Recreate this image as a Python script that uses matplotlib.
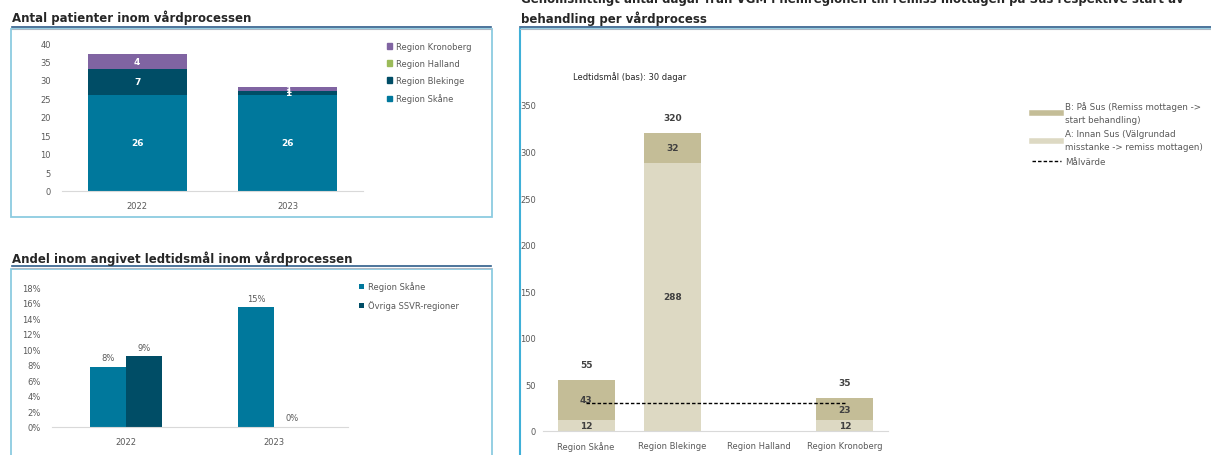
import numpy as np
import matplotlib.pyplot as plt
from matplotlib.patches import Rectangle, Patch
from matplotlib.lines import Line2D

W, H = 1211, 456

# Antal patienter inom vårdprocessen
years = ['2022', '2023']
skane = [26, 26]
blekinge = [7, 1]
halland = [0, 0]
kronoberg = [4, 1]

# Andel inom angivet ledtidsmål
andel_skane = [0.077, 0.154]
andel_ovriga = [0.091, 0.0]
andel_labels_skane = ['8%', '15%']
andel_labels_ovriga = ['9%', '0%']

# Genomsnittligt antal dagar per region
regioner = ['Region Skåne', 'Region Blekinge', 'Region Halland', 'Region Kronoberg']
dagar_a = [12, 288, 0, 12]
dagar_b = [43, 32, 0, 23]
malvarde = 30

c_skane = '#00789c'
c_blek = '#004d66'
c_hall = '#9bbb59'
c_kron = '#8064a2'
c_a = '#ddd9c3'
c_b = '#c4bd97'
grey = '#595959'
box_col = '#8ccbe0'

plt.rcParams['font.family'] = ['DejaVu Sans']


def fx(x):
    return x / W


def fy(y):
    return 1 - y / H


def add_ax(x0, x1, y0, y1):
    # pixel box -> axes (y0 top, y1 bottom)
    return fig.add_axes([fx(x0), fy(y1), fx(x1 - x0), (y1 - y0) / H])


def style(ax, ypad):
    for s in ['top', 'right', 'left']:
        ax.spines[s].set_visible(False)
    ax.spines['bottom'].set_color('#d9d9d9')
    ax.tick_params(length=0, labelsize=6, colors=grey)
    ax.tick_params(axis='y', pad=ypad)
    ax.tick_params(axis='x', pad=7)


fig = plt.figure(figsize=(W / 100, H / 100), dpi=100)

# frames and underlines
for (x0, y0, x1, y1, col) in [(11, 30, 492, 218, box_col), (11, 270, 492, 470, box_col),
                              (520, 30, 1230, 470, box_col)]:
    fig.patches.append(Rectangle((fx(x0), fy(y1)), fx(x1 - x0), (y1 - y0) / H,
                                 transform=fig.transFigure, fill=False, ec=col, lw=1.3))
fig.add_artist(Line2D([fx(520), fx(520)], [fy(30), fy(470)], color='#3fb0d8', lw=1.5))
for (x0, x1, y) in [(12, 491, 28), (12, 491, 267), (520, 1211, 28)]:
    fig.add_artist(Line2D([fx(x0), fx(x1)], [fy(y), fy(y)], color='#2e5c8a', lw=1.2))
    fig.add_artist(Line2D([fx(x0), fx(x1)], [fy(y + 1.5), fy(y + 1.5)], color='#b0b8c4', lw=0.8))

fig.text(fx(12), fy(18), 'Antal patienter inom vårdprocessen', fontsize=8.5,
         fontweight='bold', color='#262626', va='center')
fig.text(fx(12), fy(259), 'Andel inom angivet ledtidsmål inom vårdprocessen', fontsize=8.5,
         fontweight='bold', color='#262626', va='center')
fig.text(fx(521), fy(9), 'Genomsnittligt antal dagar från VGM i hemregionen till remiss mottagen '
         'på Sus respektive start av\nbehandling per vårdprocess', fontsize=8.5,
         fontweight='bold', color='#262626', va='center', linespacing=1.45)

# --- chart 1: stacked bars
ax1 = add_ax(62, 363, 44, 192)
x = np.arange(len(years))
w = 0.66
bottom = np.zeros(len(years))
series1 = [('Region Skåne', skane, c_skane), ('Region Blekinge', blekinge, c_blek),
           ('Region Halland', halland, c_hall), ('Region Kronoberg', kronoberg, c_kron)]
handles1 = []
for name, vals, col in series1:
    vals = np.array(vals, dtype=float)
    ax1.bar(x, vals, w, bottom=bottom, color=col)
    for xi, v, b in zip(x, vals, bottom):
        if v > 0:
            ax1.text(xi, b + v / 2, f'{v:.0f}', ha='center', va='center', color='white',
                     fontsize=6.5, fontweight='bold')
    bottom += vals
    handles1.append(Patch(color=col, label=name))
ax1.set_ylim(0, 40)
ax1.set_yticks(range(0, 41, 5))
ax1.set_xlim(-0.5, 1.5)
ax1.set_xticks(x)
ax1.set_xticklabels(years)
style(ax1, 8)
ax1.legend(handles1[::-1], [h.get_label() for h in handles1[::-1]], loc='upper left',
           bbox_to_anchor=(fx(379), fy(35)), bbox_transform=fig.transFigure, frameon=False,
           fontsize=6, handlelength=0.7, handleheight=0.7, handletextpad=0.4,
           labelspacing=1.0, labelcolor=grey)

# --- chart 2: grouped bars, percent
ax2 = add_ax(52, 348, 288, 428)
bw = 0.24
ax2.bar(x - bw / 2, andel_skane, bw, color=c_skane, label='Region Skåne')
ax2.bar(x + bw / 2, andel_ovriga, bw, color=c_blek, label='Övriga SSVR-regioner')
for xi, v, lab in zip(x, andel_skane, andel_labels_skane):
    ax2.text(xi - bw / 2, v + 0.006, lab, ha='center', va='bottom', fontsize=6, color=grey)
for xi, v, lab in zip(x, andel_ovriga, andel_labels_ovriga):
    ax2.text(xi + bw / 2, v + 0.006, lab, ha='center', va='bottom', fontsize=6, color=grey)
ax2.set_ylim(0, 0.18)
ax2.set_yticks(np.arange(0, 0.181, 0.02))
ax2.set_yticklabels([f'{int(round(t * 100))}%' for t in np.arange(0, 0.181, 0.02)])
ax2.set_xlim(-0.5, 1.5)
ax2.set_xticks(x)
ax2.set_xticklabels(years)
style(ax2, 8)
ax2.legend(loc='upper left', bbox_to_anchor=(fx(351), fy(275)), bbox_transform=fig.transFigure,
           frameon=False, fontsize=6, handlelength=0.7, handleheight=0.7, handletextpad=0.4,
           labelspacing=1.1, labelcolor=grey)

# --- chart 3: stacked days per region
ax3 = add_ax(543, 888, 106, 432)
xr = np.arange(len(regioner))
a = np.array(dagar_a, dtype=float)
b = np.array(dagar_b, dtype=float)
ax3.bar(xr, a, 0.66, color=c_a)
ax3.bar(xr, b, 0.66, bottom=a, color=c_b)
ax3.plot([xr[0], xr[-1]], [malvarde, malvarde], color='black', ls=(0, (2.5, 1.5)), lw=1)
for xi, va_, vb in zip(xr, a, b):
    if va_ + vb == 0:
        continue
    ax3.text(xi, va_ / 2, f'{va_:.0f}', ha='center', va='center', fontsize=6.5,
             fontweight='bold', color='#404040')
    ax3.text(xi, va_ + vb / 2, f'{vb:.0f}', ha='center', va='center', fontsize=6.5,
             fontweight='bold', color='#404040')
    ax3.text(xi, va_ + vb + 12, f'{va_ + vb:.0f}', ha='center', va='bottom', fontsize=6.5,
             fontweight='bold', color='#404040')
ax3.set_ylim(0, 350)
ax3.set_yticks(range(0, 351, 50))
ax3.set_xlim(-0.5, 3.5)
ax3.set_xticks(xr)
ax3.set_xticklabels(regioner)
style(ax3, 5)
fig.text(fx(573), fy(77), 'Ledtidsmål (bas): 30 dagar', fontsize=6, color='#262626', va='center')

handles3 = [Line2D([], [], color=c_b, lw=4), Line2D([], [], color=c_a, lw=4),
            Line2D([], [], color='black', ls=(0, (2.5, 1.5)), lw=1)]
labels3 = ['B: På Sus (Remiss mottagen ->\nstart behandling)',
           'A: Innan Sus (Välgrundad\nmisstanke -> remiss mottagen)', 'Målvärde']
leg3 = ax3.legend(handles3, labels3, loc='upper left', bbox_to_anchor=(fx(1024), fy(94)),
                  bbox_transform=fig.transFigure, frameon=False, fontsize=6.3, handlelength=3.3,
                  handletextpad=0.5, labelspacing=0.6, labelcolor=grey)
for t in leg3.get_texts():
    t.set_linespacing(1.6)

fig.savefig('out.png', dpi=100)
